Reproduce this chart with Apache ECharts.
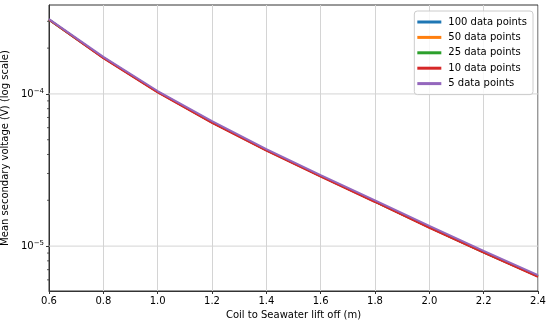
<!DOCTYPE html>
<html><head><meta charset="utf-8">
<script src="https://cdn.jsdelivr.net/npm/echarts@6/dist/echarts.min.js"></script>
<style>html,body{margin:0;padding:0;background:#fff}#c{width:550px;height:325px}</style>
</head><body><div id="c"></div>
<script>
var liftOff = [0.6, 0.8, 1.0, 1.2, 1.4, 1.6, 1.8, 2.0, 2.2, 2.4];
var seriesNames = ['100 data points', '50 data points', '25 data points', '10 data points', '5 data points'];
var v100 = [3.08e-4, 1.73e-4, 1.03e-4, 6.50e-5, 4.27e-5, 2.88e-5, 1.96e-5, 1.33e-5, 9.10e-6, 6.32e-6];
var v50  = [3.08e-4, 1.73e-4, 1.03e-4, 6.50e-5, 4.27e-5, 2.88e-5, 1.96e-5, 1.33e-5, 9.10e-6, 6.32e-6];
var v25  = [3.08e-4, 1.73e-4, 1.03e-4, 6.50e-5, 4.27e-5, 2.88e-5, 1.96e-5, 1.33e-5, 9.10e-6, 6.32e-6];
var v10  = [3.07e-4, 1.72e-4, 1.025e-4, 6.46e-5, 4.24e-5, 2.86e-5, 1.95e-5, 1.32e-5, 9.05e-6, 6.28e-6];
var v5   = [3.10e-4, 1.75e-4, 1.045e-4, 6.62e-5, 4.34e-5, 2.93e-5, 2.00e-5, 1.36e-5, 9.30e-6, 6.45e-6];
var majorTickValues = [1e-5, 1e-4];
var minorTickValues = [6e-6, 7e-6, 8e-6, 9e-6, 2e-5, 3e-5, 4e-5, 5e-5, 6e-5, 7e-5, 8e-5, 9e-5, 2e-4, 3e-4];

var colors = ['#1f77b4', '#ff7f0e', '#2ca02c', '#d62728', '#9467bd'];
var allVals = [v100, v50, v25, v10, v5];
var FONT = 'DejaVu Sans';
var yMin = 5.07e-6, yMax = 3.84e-4;
var xMin = 0.6, xMax = 2.4;

function pairs(v) { return liftOff.map(function (x, i) { return [x, v[i]]; }); }

var series = [{
  type: 'custom', silent: true, animation: false, clip: false, z: 1,
  data: majorTickValues.map(function (v) { return [xMin, v]; }),
  renderItem: function (params, api) {
    var a = api.coord([xMin, api.value(1)]);
    var b = api.coord([xMax, api.value(1)]);
    return { type: 'line', shape: { x1: a[0], y1: a[1], x2: b[0], y2: b[1] },
      style: { stroke: '#d4d4d4', lineWidth: 1 } };
  }
}];
allVals.forEach(function (v, k) {
  series.push({
    name: seriesNames[k], type: 'line', data: pairs(v), symbol: 'none',
    lineStyle: { color: colors[k], width: 2 }, itemStyle: { color: colors[k] },
    z: 3 + k, animation: false
  });
});
series.push({
  type: 'custom', silent: true, animation: false, clip: false, z: 10,
  data: minorTickValues.map(function (v) { return [xMin, v]; }),
  renderItem: function (params, api) {
    var p = api.coord([xMin, api.value(1)]);
    return { type: 'line', shape: { x1: p[0] - 2, y1: p[1], x2: p[0], y2: p[1] },
      style: { stroke: '#333', lineWidth: 0.8 } };
  }
});

var chart = echarts.init(document.getElementById('c'), null, { renderer: 'canvas' });
chart.setOption({
  animation: false,
  backgroundColor: '#fff',
  grid: { left: 49, right: 12, top: 5, bottom: 34, show: true, borderColor: '#333', borderWidth: 1,
    backgroundColor: 'transparent', containLabel: false, outerBoundsMode: 'none' },
  legend: {
    data: seriesNames, orient: 'vertical', right: 17, top: 11,
    itemWidth: 24, itemHeight: 3, icon: 'rect', itemGap: 3.4,
    padding: [5, 6, 5, 3],
    borderColor: '#cccccc', borderWidth: 1, borderRadius: 3, backgroundColor: 'rgba(255,255,255,0.8)',
    textStyle: { fontFamily: FONT, fontSize: 10, color: '#000', lineHeight: 12, padding: [0, 0, 0, 2] }
  },
  xAxis: {
    type: 'value', min: xMin, max: xMax, interval: 0.2,
    name: 'Coil to Seawater lift off (m)', nameLocation: 'middle', nameGap: 19,
    nameTextStyle: { fontFamily: FONT, fontSize: 10, color: '#000' },
    axisLine: { show: true, lineStyle: { color: '#333' } },
    axisTick: { show: true, length: 3, lineStyle: { color: '#333' } },
    axisLabel: { fontFamily: FONT, fontSize: 10, color: '#000', margin: 5,
      formatter: function (v) { return v.toFixed(1); } },
    splitLine: { show: true, lineStyle: { color: '#d4d4d4', width: 1 } }
  },
  yAxis: {
    type: 'log', logBase: 10, min: yMin, max: yMax,
    name: 'Mean secondary voltage (V) (log scale)', nameLocation: 'middle', nameGap: 7,
    nameTextStyle: { fontFamily: FONT, fontSize: 10, color: '#000' },
    axisLine: { show: true, lineStyle: { color: '#333' } },
    axisTick: { show: true, length: 3, lineStyle: { color: '#333' }, customValues: majorTickValues },
    axisLabel: {
      fontFamily: FONT, fontSize: 10, color: '#000', margin: 5,
      customValues: majorTickValues,
      formatter: function (v) {
        var e = Math.round(Math.log10(v));
        return '{b|10}{s|\u2212' + Math.abs(e) + '}';
      },
      rich: {
        b: { fontFamily: FONT, fontSize: 10, color: '#000' },
        s: { fontFamily: FONT, fontSize: 7, color: '#000', verticalAlign: 'top', padding: [0, 0, 6, 0] }
      }
    },
    splitLine: { show: false }
  },
  series: series
});
</script></body></html>
